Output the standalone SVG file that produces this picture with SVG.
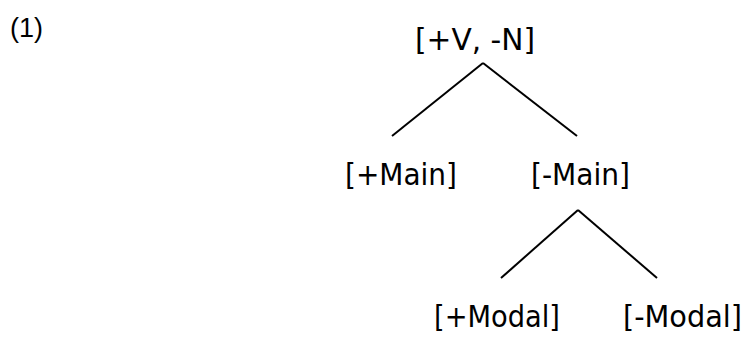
<svg xmlns="http://www.w3.org/2000/svg" width="748" height="337" viewBox="0 0 748 337">
<style>
.lbl{font-family:"DejaVu Sans",Verdana,sans-serif;font-size:30px;fill:#000}
.num{font-family:"Liberation Sans",Arial,sans-serif;font-size:27px;fill:#000}
.edge{stroke:#000;stroke-width:2;fill:none;stroke-linecap:butt}
</style>
<rect width="748" height="337" fill="#fff"/>
<text class="num" x="10" y="37">(1)</text>
<g id="connectors">
<line class="edge" x1="483" y1="63" x2="392" y2="136"/>
<line class="edge" x1="483" y1="63" x2="577" y2="136"/>
<line class="edge" x1="578" y1="210" x2="501" y2="278"/>
<line class="edge" x1="578" y1="210" x2="657" y2="278"/>
</g>
<g id="n_root"><text class="lbl" x="415" y="50" textLength="120" lengthAdjust="spacingAndGlyphs">[+V, -N]</text></g>
<g id="n_pmain"><text class="lbl" x="345" y="185" textLength="112" lengthAdjust="spacingAndGlyphs">[+Main]</text></g>
<g id="n_mmain"><text class="lbl" x="531" y="185" textLength="99" lengthAdjust="spacingAndGlyphs">[-Main]</text></g>
<g id="n_pmodal"><text class="lbl" x="434" y="327" textLength="126" lengthAdjust="spacingAndGlyphs">[+Modal]</text></g>
<g id="n_mmodal"><text class="lbl" x="623" y="327" textLength="119" lengthAdjust="spacingAndGlyphs">[-Modal]</text></g>
</svg>
